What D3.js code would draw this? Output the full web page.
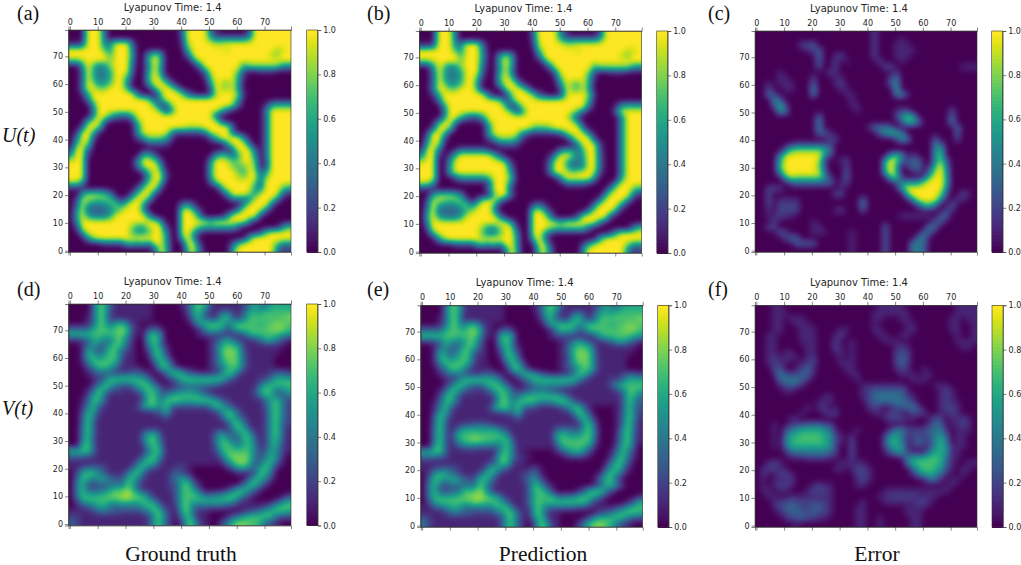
<!DOCTYPE html>
<html>
<head>
<meta charset="utf-8">
<script src="https://cdn.jsdelivr.net/npm/d3@7"></script>
<style>
  html, body { margin: 0; padding: 0; background: #fff; }
  svg { display: block; }
  .axis text { font-family: "DejaVu Sans", sans-serif; font-size: 8px; fill: #262626; }
  .axis path, .axis line { stroke: #333; stroke-width: 0.6; }
  .title { font-family: "DejaVu Sans", sans-serif; font-size: 10px; fill: #262626; text-anchor: middle; }
  .serif { font-family: "Liberation Serif", serif; fill: #111; }
</style>
</head>
<body>
<script>
// tick labels
const heatTicks = [0, 10, 20, 30, 40, 50, 60, 70];
const barTicks = [0, 0.2, 0.4, 0.6, 0.8, 1];
const plotTitle = 'Lyapunov Time: 1.4';
const letters = ['(a)', '(b)', '(c)', '(d)', '(e)', '(f)'];
const columnNames = ['Ground truth', 'Prediction', 'Error'];
const rowNames = ['U(t)', 'V(t)'];

// fields, 40 x 40 cells, top row first. one char per cell, 0-9 then a = 1.0
const truthU = [
  "000aaa3000 0000000000 3aaaa41000 002aaaaaaa",
  "000aaa4000 0000000000 2aaaa64444 446aaaaaaa",
  "112aaa45aa a300000000 19aaaa99aa aaaaaaaaaa",
  "aaaaaa75aa a400000000 07aaaaaa9a aaaaaaa99a",
  "aaaaaaa7aa a500596000 03aaaaaaaa aaaaaa98aa",
  "889aaaa8aa a4007a7000 004aaaaaaa aaaaaaaaaa",
  "005a7458aa a3005a6000 0003aaaaaa a688888855",
  "003a6446aa a2006a5000 00003aaaaa 8200111000",
  "003a6446aa 71007a8100 000018aaaa 6100000000",
  "003a8557aa 50006aa820 000005a98a 6000000000",
  "004aa88aaa 700007aaa5 000002a98a 5000000000",
  "0016aaaaaa aa30007aaa 8310029aaa 8100000000",
  "0004aaaaaa aaaa825aaa aaaaaaaaaa 6000000000",
  "00006aaaaa aaaaa7139a aaaaaaaaa9 3000015666",
  "00003aaaaa aaaaaa814a aaaaaaa730 000004aaaa",
  "00005aa743 36aaaaaaaa aaaaaa3000 000003aaaa",
  "0006aa4000 018aaaaaaa aaaaaaa300 000003aaaa",
  "002aa80000 005aaaaaaa a999aaaaa3 000003aaaa",
  "01aa700000 006aaaaa52 22224aaaa3 000003aaaa",
  "04aa200000 0025888620 0000026aaa a40003aaaa",
  "07a8000000 0000222200 000000005a aa3003aaaa",
  "2aa3000000 0000000000 0000000002 aaa303aaaa",
  "5aa1000000 0006620000 0000004763 6aa503aaaa",
  "9aa0000000 005aa82000 000004aa97 8aa702aaaa",
  "aaa0000000 0049aa6000 000005aaa8 78a802aaaa",
  "aaa0000000 00037a8100 000006aaaa 86a925aaaa",
  "aaa0000000 00006aa200 000005aaaa 98aa38aaaa",
  "9950000000 00028a8000 0000028aaa aaa82aaaaa",
  "1110000000 0028aa2000 00000006aa aaa63aaa86",
  "0058887400 028aa20000 000000004a aa85aaaa31",
  "0299878840 39aa500000 0000000003 333aaaa400",
  "03a5444685 9aa6000000 4520000000 05aaaa3000",
  "05a3333469 aaa5000000 aa72000000 5aaaa30000",
  "06a64446aa aaaa500000 aaa500003a aaaa100000",
  "05aaaaaaaa aaaaaa5000 aaaaa7aaaa aa40000000",
  "02aaaaaaaa a8669aa200 aaa7666666 3000000047",
  "006aaaaaaa a7557aa500 aa62000000 000027aaaa",
  "00059aaaaa a9aaaaa600 7a50000000 006aaaaaaa",
  "0000002222 67574aa600 0aa2000002 6aaaaaa855",
  "0000000000 000003a700 07a4000005 aaaaaaa512"
];

const predU = [
  "000aaa3000 0000000000 3aaaa41000 002aaaaaaa",
  "000aaa4000 0000000000 2aaaa64444 446aaaaaaa",
  "112aaa45aa a300000000 19aaaa99aa aaaaaaaaaa",
  "aaaaaa75aa a400000000 07aaaaaa9a aaaaaaa99a",
  "aaaaaaa7aa a500596000 03aaaaaaaa aaaaaa98aa",
  "889aaaa8aa a4007a7000 004aaaaaaa aaaaaaaaaa",
  "005a7458aa a3005a6000 0003aaaaaa a688888855",
  "003a6446aa a2006a5000 00003aaaaa 8200111000",
  "003a6446aa 71007a8100 000018aaaa 6100000000",
  "003a8557aa 50006aa820 000005a87a 6000000000",
  "004aa88aaa 700007aaa5 000002a87a 5000000000",
  "0016aaaaaa aa30007aaa 8310029aaa 8100000000",
  "0004aaaaaa aaaa825aaa aaaaaaaaaa 6000000000",
  "00006aaaaa aaaaa7139a aaaaaaaaaa 4000015666",
  "00003aaaaa aaaaaa814a aaaaaaaa73 000004aaaa",
  "00005aa743 36aaaaaaaa aaaaaaa620 0000005aaa",
  "0006aa4000 018aaaaaaa aaaaaaaa50 0000005aaa",
  "002aa80000 005aaaaaaa 7778aaaaa3 0000005aaa",
  "01aa700000 006aaaaa52 1111138aaa 4000005aaa",
  "04aa200000 0025888620 00000005aa a200005aaa",
  "07a8000000 0000222200 000000004a aa20005aaa",
  "2aa3001444 4420000000 0000046637 aa20005aaa",
  "5aa1027aaa aaa7300000 00015aa846 aa30005aaa",
  "9aa005aaaa aaaaa71000 0003aa7435 aa30005aaa",
  "aaa005aaaa aaaaaa3000 0004aa7445 aa30005aaa",
  "aaa006aaaa aaaaaa5000 0003aaa89a a920005aaa",
  "aaa0002555 557aaa7000 000005aaaa a500006aaa",
  "9950000000 002aaa4000 0000003333 100005aaaa",
  "1110000000 004aaa2000 0000000000 00005aaa86",
  "0058887400 0018aa3000 0000000000 0005aaaa31",
  "0299878840 39aa500000 0000000000 004aaaa400",
  "03a5444685 9aa6000000 3520000000 05aaaa3000",
  "05a3333469 aaa5000000 aa72000000 5aaaa30000",
  "06a64446aa aaaa500000 aaa500003a aaaa100000",
  "05aaaaaaaa aaaaaa5000 aaaaa7aaaa aa40000000",
  "02aaaaaaaa a8558aa200 aaa8777777 3000000047",
  "006aaaaaaa a7447aa500 aa62000000 000027aaaa",
  "00059aaaaa a9aaaaa600 7a50000000 006aaaaaaa",
  "0000002222 67574aa600 0aa2000002 6aaaaaa855",
  "0000000000 000003a700 07a4000005 aaaaaaa512"
];

const errorU = [
  "0000000000 0000000000 0200000000 0000000000",
  "0000000000 0000000000 0200001000 0000000000",
  "0000000022 3000000000 0200011100 0000000000",
  "0000000001 2300000000 0200011110 0000000000",
  "0000000000 0300120000 0200011100 0000000000",
  "0000000000 0300201000 0020001000 0000000000",
  "0000000000 0200200000 0002200000 0000000111",
  "0000100000 0002100000 0000020000 0000000000",
  "0000110000 2000110000 0000240000 0000000000",
  "0010111000 3000120000 0000350000 0000000000",
  "0020011000 5000011000 0000060000 0000000000",
  "0042000000 4000001100 0000045100 0000000000",
  "0005300000 0000000100 0000000000 0000000000",
  "0003620000 0000000110 0000000000 0000000000",
  "0000540000 0000000010 0000012200 0000020000",
  "0000000000 0300000000 0000025860 0000030000",
  "0000000000 0400000000 0000003663 0000040000",
  "0000000000 0400000000 1444300000 0000004000",
  "0000000000 0331000000 0035664000 0000003000",
  "0000000000 0002200000 0000025400 0030002000",
  "0000001222 2222000000 0000000000 0053000000",
  "0000037888 8864000000 0000000000 0056000000",
  "000049aaaa aa52000000 0000585020 0067000000",
  "00006aaaaa a920012000 0006a83233 0058300000",
  "00007aaaaa a820002000 0007a60233 027a400000",
  "00005aaaaa a940003000 0006a70012 049a500000",
  "0000069888 8852003000 0000772000 28aa600000",
  "0000002333 3333012000 0000034656 9aaa600000",
  "0022200000 0000010000 0000006aaa aaaa400000",
  "0020000000 0000220000 00000007aa aaa8200210",
  "0020111100 0000000003 000000005a aaa5002100",
  "0020222200 0000000004 0000000003 7740030000",
  "0010222200 0000120002 0000000000 0000310000",
  "0011211000 0000000000 0000001111 1103300000",
  "0002000000 1000000000 0000000000 0033000000",
  "0022000000 1100000000 0003000000 0430000000",
  "0000320000 1110000100 0003000000 4300000000",
  "0000023300 0000000100 0003000004 4000000000",
  "0000000333 3000000100 0003000044 3000000000",
  "0000000000 0000000100 0003000044 3000000000"
];

const truthV = [
  "0000377311 1111100000 1267621111 1246446666",
  "0000377211 1111100000 0267311342 1366677777",
  "0001377211 1111100000 0146322673 2477777778",
  "0001377367 4110000000 0026777746 7777677887",
  "3333677678 7210231000 0001476634 7777778887",
  "7777777778 6110675000 0001222111 1367777765",
  "1123664477 4100674000 0000012464 2112366421",
  "0013633677 3100474100 0000013677 6211111110",
  "0016434773 2100276200 0000013788 7211111100",
  "0016746773 1100167300 0000012688 7311111000",
  "0014777762 1100037620 0000013678 7311111000",
  "0002477631 1110016741 0000012367 7311111000",
  "0001233322 2332101377 6321112477 3111112332",
  "0000123677 7766310124 7777777742 1111224666",
  "0000137743 3477731012 3444443211 1111367777",
  "0001376322 1236763223 4443211111 1112676446",
  "0002673111 1113773467 7776431111 1112476334",
  "0013763111 1113774777 6667776321 1111136742",
  "0014731111 1126774732 2222247742 1111136742",
  "0026621111 1111123621 1111112476 3111126742",
  "0037411111 1111111211 1111111267 4211126742",
  "0037311111 1111111111 1111111126 7411126732",
  "0047311111 1111111111 1111111114 7621126731",
  "0047311111 1113662111 1111113633 4762126731",
  "0047211111 1114773111 1111114763 3673126631",
  "0067311111 1112674111 1111113776 4674126621",
  "6677311111 1111476111 1111112677 7774236421",
  "3332211111 1113674111 1111111378 8874247510",
  "1111111111 1136762111 1111111147 8873366310",
  "1123332111 1267421112 2100000013 6743675100",
  "0267743111 3673111123 2100000000 1113763000",
  "0376466432 6742111134 6410000000 0036742000",
  "0473233343 7631111123 7731000000 0367420000",
  "0473233677 8731111123 7762000013 6763100000",
  "0476667788 9876311113 7776334467 7421000001",
  "0267777778 8777631113 7767777776 3110000136",
  "0123466434 4446773112 7743333322 1111123677",
  "1111234332 2223477311 7731100000 0123467776",
  "2211111111 1111267311 4741100013 4677776322",
  "3211111111 1111267310 2772100247 8877632100"
];

const predV = [
  "0000377311 1111100000 1267621111 1246446666",
  "0000377211 1111100000 0267311342 1366677777",
  "0001377211 1111100000 0146322673 2477777778",
  "0001377367 4110000000 0026777746 7777677887",
  "3333677678 7210231000 0001476634 7777778887",
  "7777777778 6110675000 0001222111 1367777765",
  "1123664477 4100674000 0000012464 2112366421",
  "0013633677 3100474100 0000013677 6211111110",
  "0016434773 2100276200 0000013788 7211111100",
  "0016746773 1100167300 0000012688 7311111000",
  "0014777762 1100037620 0000013678 7311111000",
  "0002477631 1110016741 0000012367 7311111000",
  "0001233322 2332101377 6321112477 3111112332",
  "0000123677 7766310124 7777777742 1111224666",
  "0000137743 3477731012 3444443211 1111367777",
  "0001376322 1236763223 4443211111 1111124776",
  "0002673111 1113773467 7777763111 1111113763",
  "0013763111 1113774777 6444677421 1111113743",
  "0014731111 1126774732 2111124773 1000013742",
  "0026621111 1111123621 1111111376 2000013742",
  "0037411111 1111111211 1111111147 4100014741",
  "0037311223 3321111111 1111111116 7200014731",
  "0047313666 6666421111 1111344336 7300016731",
  "0047316778 7777751111 1111676567 7300026721",
  "0047314778 8776673111 1111477777 7200026721",
  "0067312344 3333474111 1111267777 4100037620",
  "6677311111 1111674110 0000124664 2000147410",
  "3332211111 1113774211 0000001111 0000267310",
  "1111111111 1123772110 0000000000 0001476200",
  "1123332111 1267421111 3100000000 0003673100",
  "0267743111 3673111123 4100000000 0026742000",
  "0376466432 6742111123 6310000000 0147620000",
  "0473233343 7631111113 7621000000 0136741000",
  "0473233677 8731111113 7762000013 6774200000",
  "0476667788 9876311113 6777434467 7631000001",
  "0267777778 8777631113 7767777777 4110000136",
  "1123466434 4446773112 6743333322 1111123677",
  "1111234332 2223477311 7731100000 0123467776",
  "3211111111 1111267311 4741100001 3677776322",
  "4211111111 1111267310 2772100024 7887632100"
];

const errorV = [
  "0001100000 0000000000 0011111000 0000001111",
  "0001110000 0000000000 0111111100 0000001111",
  "0001101110 0000000000 0110001100 0000011011",
  "0001100111 0000000000 0100000110 0000011001",
  "0001100011 1000011000 0110000110 0000011001",
  "0011000011 1000120000 0011001100 0000001001",
  "0011000011 1000200100 0001110000 0000001111",
  "0011000001 1000210100 0000012100 0000000110",
  "0011011001 1000110100 0000022200 0000000000",
  "0012111101 2000010100 0000023200 0000000000",
  "0012110012 2000011100 0000023200 0000000000",
  "0002300123 1000001100 0000012100 1000000000",
  "0001432233 1000000110 0000001110 1100000000",
  "0000344431 0000000010 0000000011 1000000000",
  "0000123210 0000000001 1111111000 0011100000",
  "0000011000 0000000001 2333333100 0001210000",
  "0000000000 0011000001 2344443210 0001210000",
  "0000000000 0111000000 2333344320 0001211000",
  "0000000001 0120100000 1210122342 0001221000",
  "0000000010 0012200000 0111221022 2001121000",
  "0000001100 0000000000 0001222110 0132011210",
  "0001001223 3322000000 0000000000 0233011210",
  "0001024566 6654100010 0000244222 2344101110",
  "0001036677 7765210100 0002564122 2345301100",
  "0001046777 7765210200 0003664123 2256401100",
  "0001036666 6665200200 0002565112 1256511100",
  "0000013444 4443200200 0001355210 1466511000",
  "0000001112 2221100200 0000001456 6776411000",
  "0012100000 0000011111 0000000467 7776310011",
  "0122110000 0000110122 1000000036 7765210110",
  "0200221000 0000000022 1000000014 5653100100",
  "0101112000 0000000012 1000000000 1331011000",
  "0101221000 1211000011 0000000000 0000110000",
  "0110110001 2221000000 0001111111 1111100000",
  "0011001111 1111000000 0011222221 1110000000",
  "0001223222 2221000001 0001111112 2100000000",
  "0001233322 3321000011 0000000111 1000000000",
  "0000123332 3221000011 0000000111 0000000000",
  "0000012232 2110000011 0010000011 0000000000",
  "0000000100 0000000011 0010000011 0000000000"
];

const fields = [truthU, predU, errorU, truthV, predV, errorV];

// where each panel sits on the page: heatmap left/top/right/bottom, colorbar left
const panelBoxes = [
  [68.5, 30, 291, 252, 306.7],
  [419.3, 31, 641.7, 253, 656.7],
  [755, 31, 977, 252, 991.7],
  [68.5, 304, 291, 525.5, 306.7],
  [420.7, 305.3, 642.7, 527, 657.7],
  [755, 305.3, 977, 527, 992]
];
const letterPos = [[17, 20], [367, 20], [708, 20], [17, 296], [367, 296], [708, 296]];

const parseRow = row => row.replace(/ /g, '').split('').map(ch => parseInt(ch, 11) / 10);

const svg = d3.select('body').append('svg')
  .attr('width', 1021)
  .attr('height', 565)
  .attr('viewBox', '0 0 1021 565');

// the cells are drawn grey, blurred, then pushed through viridis so the edges stay on the colormap
const defs = svg.append('defs');
const viridisStops = d3.range(0, 1.0001, 1 / 48).map(t => d3.rgb(d3.interpolateViridis(t)));
const smooth = defs.append('filter')
  .attr('id', 'smooth')
  .attr('filterUnits', 'userSpaceOnUse')
  .attr('x', 0).attr('y', 0).attr('width', 1021).attr('height', 565)
  .attr('color-interpolation-filters', 'sRGB');
smooth.append('feGaussianBlur').attr('stdDeviation', 3);
const transfer = smooth.append('feComponentTransfer');
['R', 'G', 'B'].forEach((ch) => {
  const key = ch.toLowerCase();
  transfer.append('feFunc' + ch)
    .attr('type', 'table')
    .attr('tableValues', viridisStops.map(c => (c[key] / 255).toFixed(4)).join(' '));
});

const greyOf = d3.scaleLinear().domain([0, 1]).range([0, 255]);
const barColor = d3.scaleSequential(d3.interpolateViridis).domain([0, 1]);

panelBoxes.forEach((box, i) => {
  const [x0, y0, x1, y1, barX] = box;
  const cells = fields[i].map(parseRow);
  const panel = svg.append('g').attr('class', 'panel');

  const colBand = d3.scaleBand().domain(d3.range(40)).range([x0, x1]);
  const rowBand = d3.scaleBand().domain(d3.range(40)).range([y0, y1]);
  const xScale = d3.scaleLinear().domain([-0.5, 79.5]).range([x0, x1]);
  const yScale = d3.scaleLinear().domain([-0.5, 79.5]).range([y1, y0]);

  defs.append('clipPath').attr('id', 'clip' + i)
    .append('rect')
    .attr('x', x0).attr('y', y0)
    .attr('width', x1 - x0).attr('height', y1 - y0);

  // border cells run past the frame so the blur does not fade at the edge
  const pad = 12;
  panel.append('g')
    .attr('clip-path', `url(#clip${i})`)
    .append('g')
    .attr('filter', 'url(#smooth)')
    .attr('shape-rendering', 'crispEdges')
    .selectAll('g')
    .data(cells)
    .join('g')
    .each(function (row, r) {
      d3.select(this).selectAll('rect')
        .data(row)
        .join('rect')
        .attr('x', (d, c) => colBand(c) - (c === 0 ? pad : 0))
        .attr('y', rowBand(r) - (r === 0 ? pad : 0))
        .attr('width', (d, c) => colBand.bandwidth() + 0.5 + (c === 0 || c === 39 ? pad : 0))
        .attr('height', rowBand.bandwidth() + 0.5 + (r === 0 || r === 39 ? pad : 0))
        .attr('fill', (d) => {
          const v = Math.round(greyOf(d));
          return `rgb(${v},${v},${v})`;
        });
    });

  // axes
  panel.append('g')
    .attr('class', 'axis')
    .attr('transform', `translate(0,${y0})`)
    .call(d3.axisTop(xScale).tickValues(heatTicks).tickSize(3.5).tickPadding(2).tickFormat(d3.format('d')));
  panel.append('g')
    .attr('class', 'axis')
    .attr('transform', `translate(0,${y1})`)
    .call(d3.axisBottom(xScale).tickValues(heatTicks).tickSize(3.5).tickFormat(''));
  panel.append('g')
    .attr('class', 'axis')
    .attr('transform', `translate(${x0},0)`)
    .call(d3.axisLeft(yScale).tickValues(heatTicks).tickSize(3.5).tickPadding(2).tickFormat(d3.format('d')));
  panel.append('rect')
    .attr('x', x0).attr('y', y0)
    .attr('width', x1 - x0).attr('height', y1 - y0)
    .attr('fill', 'none')
    .attr('stroke', '#333')
    .attr('stroke-width', 0.6);

  // title sits a little left of the heatmap centre in the figure
  panel.append('text')
    .attr('class', 'title')
    .attr('x', (x0 + x1) / 2 - 7)
    .attr('y', y0 - 19.5)
    .text(plotTitle);

  // colorbar
  const barScale = d3.scaleLinear().domain([0, 1]).range([y1, y0]);
  const levels = d3.range(0, 64);
  const barBand = d3.scaleBand().domain(levels).range([y1, y0]);
  panel.append('g')
    .attr('shape-rendering', 'crispEdges')
    .selectAll('rect')
    .data(levels)
    .join('rect')
    .attr('x', barX)
    .attr('y', d => barBand(d) - 0.5)
    .attr('width', 11)
    .attr('height', barBand.bandwidth() + 1)
    .attr('fill', d => barColor(d / 63));
  panel.append('g')
    .attr('class', 'axis')
    .attr('transform', `translate(${barX + 11},0)`)
    .call(d3.axisRight(barScale).tickValues(barTicks).tickSize(3.5).tickPadding(2).tickFormat(d3.format('.1f')));
  panel.append('rect')
    .attr('x', barX).attr('y', y0)
    .attr('width', 11).attr('height', y1 - y0)
    .attr('fill', 'none')
    .attr('stroke', '#333')
    .attr('stroke-width', 0.6);
});

// the (f) letter was pasted over the first digit of the y labels in the figure
svg.append('rect')
  .attr('x', 728).attr('y', 300)
  .attr('width', 10.5).attr('height', 230)
  .attr('fill', '#fff');

svg.selectAll('text.letter')
  .data(letters)
  .join('text')
  .attr('class', 'letter serif')
  .attr('x', (d, i) => letterPos[i][0])
  .attr('y', (d, i) => letterPos[i][1])
  .attr('font-size', 20)
  .text(d => d);

svg.selectAll('text.rowName')
  .data(rowNames)
  .join('text')
  .attr('class', 'rowName serif')
  .attr('x', 2)
  .attr('y', (d, i) => [142, 415][i])
  .attr('font-size', 20)
  .attr('font-style', 'italic')
  .text(d => d);

svg.selectAll('text.colName')
  .data(columnNames)
  .join('text')
  .attr('class', 'colName serif')
  .attr('x', (d, i) => [181, 543, 877][i])
  .attr('y', 561)
  .attr('font-size', 21.5)
  .attr('text-anchor', 'middle')
  .text(d => d);
</script>
</body>
</html>
